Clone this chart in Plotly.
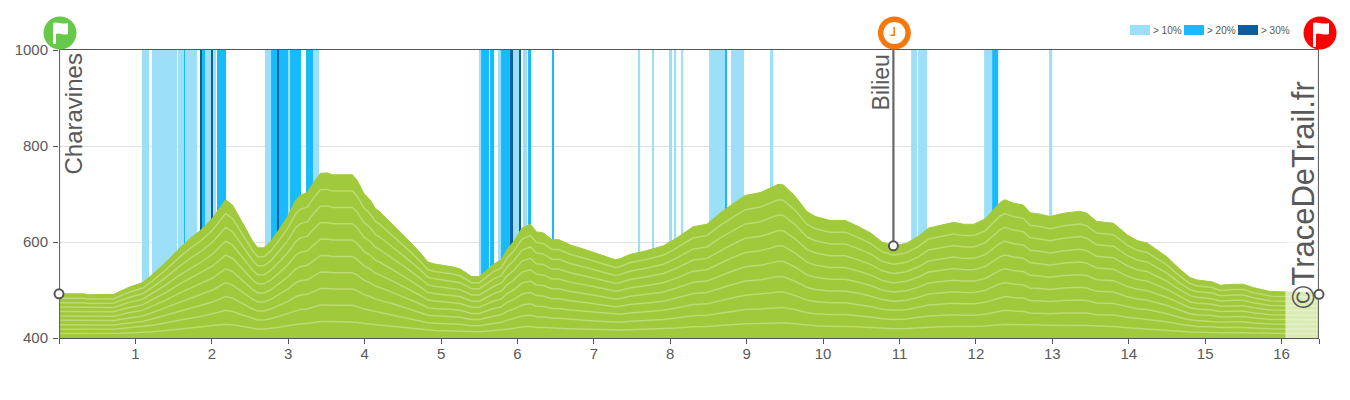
import plotly.graph_objects as go

km = [0,.33,.37,.72,.81,.92,1.09,1.22,1.40,1.57,1.75,1.85,2.01,2.09,2.18,2.27,2.36,2.44,2.53,2.60,2.68,2.77,2.88,2.99,3.10,3.16,3.25,3.34,3.42,3.51,3.58,3.84,3.90,3.99,4.07,4.14,4.20,4.33,4.44,4.59,4.73,4.83,4.92,5.16,5.25,5.40,5.50,5.58,5.69,5.79,5.86,5.95,6.06,6.17,6.25,6.34,6.45,6.54,6.69,6.91,7.13,7.28,7.34,7.47,7.69,7.91,8.08,8.30,8.48,8.65,8.78,8.98,9.18,9.31,9.41,9.48,9.63,9.79,9.90,10.09,10.29,10.44,10.62,10.77,10.92,11.09,11.25,11.38,11.53,11.71,11.84,11.97,12.12,12.23,12.32,12.38,12.49,12.62,12.71,12.84,12.97,13.15,13.36,13.45,13.58,13.80,13.98,14.11,14.24,14.50,14.67,14.80,14.89,15.09,15.20,15.37,15.50,15.63,15.85,16.07,16.49]
elevation = [492,492,490,491,498,506,515,532,558,586,612,624,650,668,688,677,650,629,603,588,588,601,626,653,688,698,703,726,743,744,740,740,729,701,688,670,663,643,626,601,577,558,554,548,544,528,528,539,554,563,584,601,629,637,621,619,605,605,594,583,572,563,565,574,582,592,608,632,637,660,675,697,703,712,720,719,696,663,653,645,645,634,619,600,592,597,612,629,634,641,637,637,648,667,683,688,681,677,661,658,653,660,664,660,643,639,615,603,598,569,543,526,521,517,510,512,512,505,497,496,495]

contour_fractions = [.1,.2,.3,.4,.5,.6,.7,.8,.9]

band_start = [1.086,1.217,1.558,1.640,1.649,1.846,1.872,1.911,1.990,2.003,2.068,2.696,2.775,2.853,2.880,2.997,3.024,3.233,3.325,5.497,5.524,5.641,5.746,5.785,5.903,5.942,6.021,6.073,6.139,6.453,7.579,7.762,7.984,8.050,8.141,8.508,8.717,8.796,9.306,11.152,11.243,12.107,12.212,12.958]
band_end = [1.178,1.545,1.640,1.649,1.806,1.872,1.911,1.990,2.003,2.055,2.186,2.775,2.853,2.880,2.997,3.024,3.168,3.325,3.403,5.524,5.628,5.694,5.785,5.903,5.942,6.021,6.047,6.126,6.178,6.466,7.605,7.788,8.024,8.076,8.168,8.717,8.743,8.966,9.346,11.230,11.361,12.212,12.291,12.997]
band_level = [1,1,1,2,1,3,2,1,3,1,2,1,2,3,2,1,2,2,1,1,2,2,1,2,3,1,3,1,2,2,1,1,1,1,1,1,2,1,1,1,1,1,2,1]

level_colors = {1: "#9bdff9", 2: "#17bbfb", 3: "#0c5f9c"}
legend_labels = {1: "> 10%", 2: "> 20%", 3: "> 30%"}

waypoint_km = [0, 10.92, 16.49]
waypoint_elev = [492, 592, 491]
waypoint_names = ["Charavines", "Bilieu", "©TraceDeTrail.fr"]

x_tick_vals = [0,1,2,3,4,5,6,7,8,9,10,11,12,13,14,15,16,16.49]
x_tick_text = ["","1","2","3","4","5","6","7","8","9","10","11","12","13","14","15","16",""]
y_tick_vals = [400,600,800,1000]

faded_start = 16.05
GREEN = "#a0ca3b"
TEXT = "#595959"
FONT = "Liberation Sans"
X_MAX = 16.49

fig = go.Figure()

for lvl in (1, 2, 3):
    idx = [i for i, l in enumerate(band_level) if l == lvl]
    fig.add_trace(go.Bar(
        x=[(band_start[i] + band_end[i]) / 2 for i in idx],
        width=[band_end[i] - band_start[i] for i in idx],
        y=[600] * len(idx), base=400,
        marker=dict(color=level_colors[lvl], line_width=0),
        showlegend=False, hoverinfo="skip"))

fig.add_trace(go.Scatter(x=km, y=elevation, mode="lines", line=dict(color=GREEN, width=1),
                         fill="tozeroy", fillcolor=GREEN, showlegend=False, hoverinfo="skip"))
for f in contour_fractions:
    fig.add_trace(go.Scatter(x=km, y=[400 + (e - 400) * f for e in elevation], mode="lines",
                             line=dict(color="rgba(255,255,255,0.3)", width=1.5),
                             showlegend=False, hoverinfo="skip"))

# pale end-of-course veil
fig.add_trace(go.Scatter(x=[faded_start, faded_start, waypoint_km[2], waypoint_km[2]],
                         y=[400, 1000, 1000, 400], mode="lines", fill="toself",
                         fillcolor="rgba(255,255,255,0.62)", line=dict(width=0),
                         showlegend=False, hoverinfo="skip"))

# waypoint masts
for k, bottom in zip(waypoint_km, [400, waypoint_elev[1], 400]):
    fig.add_trace(go.Scatter(x=[k, k], y=[bottom, 1000], mode="lines",
                             line=dict(color="#666666", width=2.2), cliponaxis=False,
                             showlegend=False, hoverinfo="skip"))
fig.add_trace(go.Scatter(x=waypoint_km, y=waypoint_elev, mode="markers", cliponaxis=False,
                         marker=dict(size=9, color="white", line=dict(color="#555555", width=2)),
                         showlegend=False, hoverinfo="skip"))

shapes = []
def circle(k, r, color):
    return dict(type="circle", xref="paper", yref="paper", xsizemode="pixel", ysizemode="pixel",
                xanchor=k / X_MAX, yanchor=1, x0=-r + 1, x1=r + 1, y0=17 - r, y1=17 + r,
                fillcolor=color, line_width=0, layer="above")
def glyph(k, path, color):
    return dict(type="path", xref="paper", yref="paper", xsizemode="pixel", ysizemode="pixel",
                xanchor=k / X_MAX, yanchor=1, path=path, fillcolor=color, line_width=0, layer="above")
FLAG_GREEN = "M-6,27 C-2,29 3,25 9,27 L9,16 C4,14 0,18 -3,16 L-3,6 L-6,6 Z"
FLAG_RED = "M-6,27 C-2,29 3,25 10,27 L10,16 C4,14 0,18 -3,16 L-3,3 L-6,3 Z"
shapes.append(circle(waypoint_km[0], 16.5, "#66c94a"))
shapes.append(glyph(waypoint_km[0], FLAG_GREEN, "white"))
shapes.append(circle(waypoint_km[2], 16.5, "#ff0000"))
shapes.append(glyph(waypoint_km[2], FLAG_RED, "white"))
shapes.append(circle(waypoint_km[1], 16.5, "#f6780d"))
shapes.append(circle(waypoint_km[1], 11, "white"))
shapes.append(glyph(waypoint_km[1], "M0,23 L1.5,23 L1.5,14 L-3,14 L-3,15.5 L0,15.5 Z", "#f6780d"))

# legend swatches
legend_px = {1: 1130, 2: 1184, 3: 1238}
annotations = []
for lvl, px in legend_px.items():
    shapes.append(dict(type="rect", xref="paper", yref="paper", xsizemode="pixel", ysizemode="pixel",
                       xanchor=(px - 59) / 1260, yanchor=1, x0=0, x1=20, y0=15, y1=25,
                       fillcolor=level_colors[lvl], line_width=0, layer="above"))
    annotations.append(dict(xref="paper", yref="paper", x=(px + 20.5 - 59) / 1260, y=1, yshift=20,
                            text=legend_labels[lvl], showarrow=False, xanchor="left", yanchor="middle",
                            font=dict(family=FONT, size=10, color=TEXT)))

name_sizes = [24, 23, 31]
name_shift = [14, -12, -16]
name_top = [52, 52, 80]
for k, name, sz, xs, top in zip(waypoint_km, waypoint_names, name_sizes, name_shift, name_top):
    annotations.append(dict(x=k, xref="x", y=1000, yref="y", yshift=-(top - 50), text=name,
                            textangle=-90, showarrow=False, xanchor="center", yanchor="top",
                            xshift=xs, font=dict(family=FONT, size=sz, color=TEXT)))

fig.update_layout(
    width=1350, height=400, margin=dict(l=59, r=31, t=50, b=61.5),
    paper_bgcolor="white", plot_bgcolor="white", barmode="overlay",
    font=dict(family=FONT, size=14, color=TEXT), shapes=shapes, annotations=annotations,
    xaxis=dict(range=[0, X_MAX], tickvals=x_tick_vals, ticktext=x_tick_text, ticks="outside",
               ticklen=5, tickcolor="#555555", showgrid=False, zeroline=False, showline=True,
               linecolor="#555555", linewidth=1.2, mirror=True, ticklabelstandoff=-3,
               tickfont=dict(size=15, color=TEXT)),
    yaxis=dict(range=[400, 1000], tickvals=y_tick_vals, ticks="outside", ticklen=5, tickcolor="#555555",
               showgrid=True, gridcolor="#e0e0e0", gridwidth=1, zeroline=False, showline=False,
               ticklabelstandoff=2, tickfont=dict(size=15, color=TEXT)),
)

fig.write_html("out.html", config={"displayModeBar": False},
               post_script="document.body.style.margin='0';")
